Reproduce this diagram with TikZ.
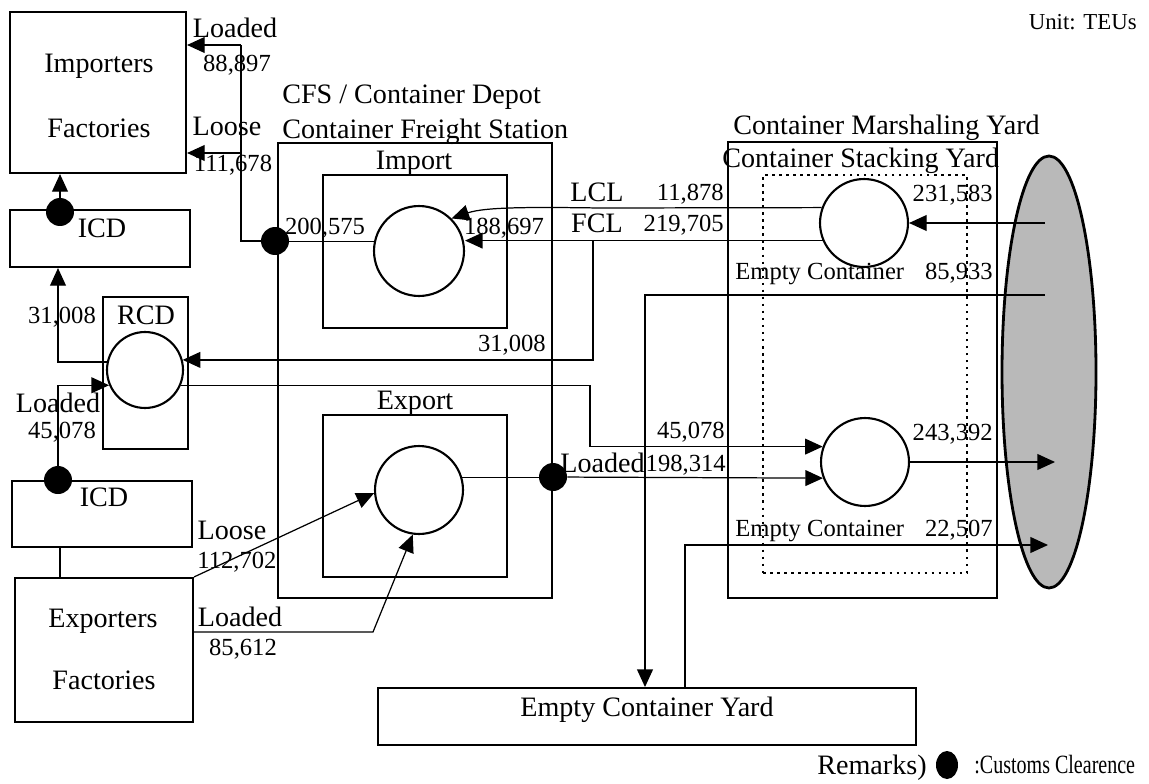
\documentclass[tikz,border=0pt]{standalone}
\usepackage{fontspec}
\setmainfont{Liberation Serif}
\usetikzlibrary{arrows.meta,positioning,shapes.geometric}
\tikzset{>={Triangle[length=10pt,width=9pt]}}
\tikzset{
  blk/.style n args={3}{draw,line width=#3,minimum width=#1*0.02cm,
    minimum height=#2*0.02cm,inner sep=0pt},
  stn/.style={circle,draw,line width=1.2pt,minimum size=#1*0.04cm,inner sep=0pt},
  cc/.style={circle,fill=black,minimum size=0.56cm,inner sep=0pt},
  flow/.style={line width=0.7pt},
  big/.style={font=\fontsize{16}{19}\selectfont,inner sep=0pt,text height=10.6pt,text depth=0pt},
  num/.style={font=\fontsize{14}{17}\selectfont,inner sep=0pt,text height=9.5pt,text depth=0pt}
}
\begin{document}
\begin{tikzpicture}[x=0.02cm,y=-0.02cm]
\useasboundingbox (0,0) rectangle (1149,784);
% importers / exporters side
\node[blk={176}{161}{1.2pt}] (imp) at (98,92.5) {};
\node[big] (impA) at (99,63) {Importers};
\node[big] (impB) at (99,128) {Factories};
\node[blk={180}{57}{1.2pt}] (icdA) at (100,238.5) {};
\node[big] (icdAt) at (102,228) {ICD};
\node[blk={85}{152}{0.9pt}] (rcd) at (145.5,373) {};
\node[big] (rcdt) at (146,315) {RCD};
\node[stn=38] (rcdc) at (145,370) {};
\node[blk={180}{66}{1.2pt}] (icdB) at (102,514) {};
\node[big] (icdBt) at (104,497) {ICD};
\node[blk={178}{144}{1.2pt}] (exp) at (104,650) {};
\node[big] (expA) at (103,618) {Exporters};
\node[big] (expB) at (104,680) {Factories};
% CFS
\node[blk={274}{455}{1.6pt}] (cfs) at (415,370.5) {};
\node[big,anchor=west] (cfsA) at (282,94) {CFS / Container Depot};
\node[big,anchor=west] (cfsB) at (282,129) {Container Freight Station};
\node[blk={184}{153}{1.6pt}] (impb) at (415,251.5) {};
\node[big] (impbt) at (414,160) {Import};
\node[stn=45] (impc) at (419,251) {};
\node[blk={184}{162}{1.6pt}] (expb) at (415,496) {};
\node[big] (expbt) at (415,400) {Export};
\node[stn=44] (expc) at (419,490) {};
% marshaling yard
\node[blk={269}{456}{1.6pt}] (cmy) at (862.5,370) {};
\node[blk={204}{398}{1.3pt},dash pattern=on 1.5pt off 2.5pt] (csy) at (865,374) {};
\node[big,anchor=west] (cmyA) at (733,125) {Container Marshaling Yard};
\node[big,anchor=west] (cmyB) at (722,158) {Container Stacking Yard};
\node[stn=44] (mc1) at (864,223) {};
\node[stn=44] (mc2) at (865,462) {};
\node[ellipse,draw,line width=1.6pt,fill=gray!55,minimum width=94*0.02cm,
  minimum height=432*0.02cm,inner sep=0pt] (port) at (1049,372) {};
\node[blk={538}{57}{1.1pt}] (ecy) at (647,716.5) {};
\node[big] (ecyt) at (647,707) {Empty Container Yard};
% customs clearance
\node[cc] (d1) at (60,212) {};
\node[cc] (d2) at (275,241) {};
\node[cc] (d3) at (58,480) {};
\node[cc] (d4) at (553,477) {};
% connectors
\coordinate (jA) at (241,241);
\coordinate (jB) at (241,45);
\coordinate (jC) at (241,153);
\draw[flow] (d2) -- (jA) -- (jB);
\draw[flow,->] (jB) -- (jB -| imp.east);
\draw[flow,->] (jC) -- (jC -| imp.east);
\draw[flow] (impc.168) -- (impc.168 -| d2);
\draw[flow,->] (d1) -- (d1 |- imp.south);
\draw[flow] (icdB.south -| d1) -- (exp.north -| d1);
\draw[flow,->] (d3) |- (rcdc.203);
\draw[flow,->] (rcdc.168) -| (icdA.south -| d3);
\draw[flow,->] (mc1.203) -- (mc1.203 -| impc.east);
\coordinate (lclA) at (600,208);
\draw[flow,->] (mc1.160) -- (lclA) .. controls (530,207) and (485,207) .. (impc.45);
\coordinate (brA) at (593,240);
\draw[flow,->] (brA) |- (rcdc.15);
\coordinate (brB) at (590,447);
\draw[flow,->] (rcdc.-23) -- (rcdc.-23 -| brB) |- (mc2.160);
\draw[flow,->] (exp.north east) -- (expc.184);
\coordinate (k1) at (373,632);
\draw[flow,->] (exp.east |- k1) -- (k1) -- (expc.262);
\draw[flow] (expc.16) -- (expc.16 -| d4);
\draw[flow,->] (d4) -- (mc2.201);
\coordinate (pA) at (1055,462);
\draw[flow,->] (mc2.east) -- (pA);
\coordinate (pB) at (1045,223);
\draw[flow,->] (pB) -- (mc1.east);
\coordinate (pC) at (1045,295);
\coordinate (eA) at (645,295);
\draw[flow,->] (pC) -- (eA) -- (eA |- ecy.north);
\coordinate (eB) at (685,545);
\coordinate (pD) at (1048,545);
\draw[flow,->] (eB |- ecy.north) -- (eB) -- (pD);
% flow labels
\node[big] (lA) at (235,28) {Loaded};
\node[num] (lAn) at (237,63) {88,897};
\node[big] (lB) at (227,126) {Loose};
\node[num] (lBn) at (233,163) {111,678};
\node[num] (lC) at (62,315) {31,008};
\node[big] (lD) at (58,403) {Loaded};
\node[num] (lDn) at (62,430) {45,078};
\node[big] (lE) at (232,530) {Loose};
\node[num] (lEn) at (237,560) {112,702};
\node[big] (lF) at (240,617) {Loaded};
\node[num] (lFn) at (243,647) {85,612};
\node[num] (lG) at (325,226) {200,575};
\node[num] (lH) at (504,226) {188,697};
\node[num,anchor=east] (lI) at (546,343) {31,008};
\node[big] (lJ) at (597,192) {LCL};
\node[num,anchor=east] (lJn) at (724,192) {11,878};
\node[big] (lK) at (597,223) {FCL};
\node[num,anchor=east] (lKn) at (724,223) {219,705};
\node[num,anchor=east] (lL) at (725,430) {45,078};
\node[big,anchor=east] (lM) at (645,463) {Loaded};
\node[num,anchor=east] (lMn) at (726,463) {198,314};
\node[num,anchor=east] (lN) at (993,193) {231,583};
\node[num,anchor=west] (lO) at (735,271) {Empty Container};
\node[num,anchor=east] (lOn) at (993,271) {85,933};
\node[num,anchor=east] (lP) at (993,432) {243,392};
\node[num,anchor=west] (lQ) at (735,528) {Empty Container};
\node[num,anchor=east] (lQn) at (993,528) {22,507};
% unit and remarks
\node[font=\fontsize{13}{15}\selectfont,anchor=east,inner sep=0pt,
  text height=8.8pt,text depth=0pt] (unit) at (1137,22) {Unit: TEUs};
\node[big,anchor=east] (rem) at (927,765) {Remarks)};
\node[cc,ellipse,minimum width=22*0.02cm,minimum height=28*0.02cm] (dl) at (947,765) {};
\node[font=\fontsize{15}{18}\selectfont,anchor=west,inner sep=0pt,
  text height=10pt,text depth=0pt] (remT) at (974,765) {\scalebox{0.76}[1]{:Customs Clearence}};
\end{tikzpicture}
\end{document}
